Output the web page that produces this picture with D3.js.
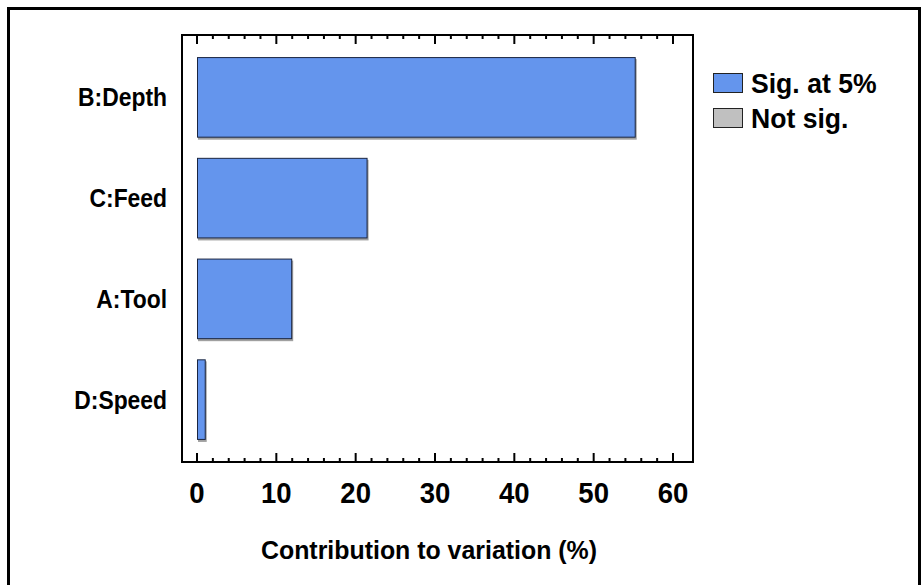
<!DOCTYPE html>
<html><head><meta charset="utf-8">
<script src="https://cdn.jsdelivr.net/npm/d3@7"></script>
<style>body{margin:0;background:#fff}svg{display:block}text{font-family:"Liberation Sans",Arial,sans-serif;font-weight:bold;fill:#000}</style>
</head><body>
<script>
const categories = ["B:Depth","C:Feed","A:Tool","D:Speed"];
const values = [55.3, 21.5, 12.0, 1.1];
const xTicks = [0,10,20,30,40,50,60];
const legendLabels = ["Sig. at 5%","Not sig."];
const legendColors = ["#6495ED","#C0C0C0"];

const W=921,H=585;
const svg=d3.select("body").append("svg").attr("width",W).attr("height",H);

// outer border
svg.append("path").attr("d","M8.5,590V8.5H919.5V590").attr("fill","none").attr("stroke","#000").attr("stroke-width",3);

const fL=182,fR=693,fT=35,fB=462;
const x=d3.scaleLinear().domain([0,60]).range([197,673]);
const y=d3.scaleBand().domain(categories).range([47,450]).paddingInner(0.2).paddingOuter(0.1);

// bars shadows
svg.append("g").selectAll("rect").data(values).join("rect")
  .attr("x",x(0)+1).attr("y",(d,i)=>y(categories[i])+2)
  .attr("width",d=>x(d)-x(0)).attr("height",y.bandwidth())
  .attr("fill","#a0a0a0");
svg.append("g").selectAll("rect").data(values).join("rect")
  .attr("x",x(0)+0.5).attr("y",(d,i)=>y(categories[i])+0.5)
  .attr("width",d=>x(d)-x(0)-1).attr("height",y.bandwidth()-1)
  .attr("fill","#6495ED").attr("stroke","#1a2540").attr("stroke-width",1);

// frame
svg.append("rect").attr("x",fL).attr("y",fT).attr("width",fR-fL).attr("height",fB-fT)
  .attr("fill","none").attr("stroke","#000").attr("stroke-width",2);

// ticks
const minor=d3.range(0,61,2);
const tg=svg.append("g").attr("stroke","#000").attr("stroke-width",2);
minor.forEach(v=>{
  const major=v%10===0;
  const L=major?9:4;
  tg.append("line").attr("x1",x(v)).attr("x2",x(v)).attr("y1",fT).attr("y2",fT+L);
  tg.append("line").attr("x1",x(v)).attr("x2",x(v)).attr("y1",fB).attr("y2",fB-L);
});

// tick labels
svg.append("g").selectAll("text").data(xTicks).join("text")
  .attr("transform",d=>`translate(${x(d)},503) scale(0.95,1)`).attr("text-anchor","middle")
  .style("font-size","29px").text(d=>d);

// category labels
svg.append("g").selectAll("text").data(categories).join("text")
  .attr("transform",d=>`translate(167,${y(d)+y.bandwidth()/2}) scale(0.88,1)`).attr("dy","0.35em")
  .attr("text-anchor","end").style("font-size","26px").text(d=>d);

// axis title
svg.append("text").attr("transform",`translate(429,559) scale(0.94,1)`).attr("text-anchor","middle")
  .style("font-size","26.5px").text("Contribution to variation (%)");

// legend
const lg=svg.append("g");
legendLabels.forEach((t,i)=>{
  lg.append("rect").attr("x",713.5).attr("y",73.5+i*35).attr("width",29).attr("height",19)
    .attr("fill",legendColors[i]).attr("stroke","#222").attr("stroke-width",1);
  lg.append("text").attr("transform",`translate(751,${83+i*35}) scale(0.95,1)`).attr("dy","0.35em").style("font-size","28px").text(t);
});
</script>
</body></html>
